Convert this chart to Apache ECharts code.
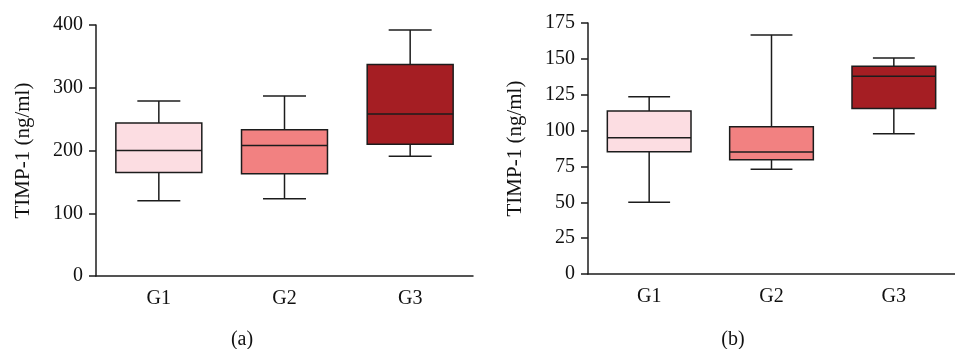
<!DOCTYPE html>
<html>
<head>
<meta charset="utf-8">
<script src="https://cdn.jsdelivr.net/npm/echarts@6/dist/echarts.min.js"></script>
<style>
  html, body { margin: 0; padding: 0; background: #fff; }
  #chart { width: 955px; height: 349px; }
</style>
</head>
<body>
<div id="chart"></div>
<script>
// groups and box colours
const groups = ['G1', 'G2', 'G3']
const boxColors = ['#fcdde2', '#f28181', '#a51e23']

// [min, Q1, median, Q3, max] per group
const statsA = [
  [120, 165, 200, 244, 279],
  [123, 163, 208, 233, 287],
  [191, 210, 258, 337, 392]
]
const statsB = [
  [50, 85.2, 95, 113.7, 123.5],
  [73, 79.6, 85, 102.6, 166.7],
  [97.7, 115.4, 137.9, 144.8, 150.6]
]

const yTicksA = { min: 0, max: 400, interval: 100 }
const yTicksB = { min: 0, max: 175, interval: 25 }

const ink = '#1c1c1c'
const textInk = '#111'
const font = '"Liberation Serif", "DejaVu Serif", serif'

function toData(stats) {
  return stats.map((s, i) => [i, ...s])
}

// box with half-width whisker caps
function renderBox(params, api) {
  const idx = api.value(0)
  const bandW = api.size([1, 0])[0]
  const half = bandW * 0.342
  const capHalf = half / 2
  const lo = api.coord([idx, api.value(1)])
  const q1 = api.coord([idx, api.value(2)])
  const med = api.coord([idx, api.value(3)])
  const q3 = api.coord([idx, api.value(4)])
  const hi = api.coord([idx, api.value(5)])
  const cx = lo[0]
  const lineStyle = { stroke: ink, lineWidth: 1.5 }
  return {
    type: 'group',
    children: [
      { type: 'line', shape: { x1: cx, y1: hi[1], x2: cx, y2: q3[1] }, style: lineStyle },
      { type: 'line', shape: { x1: cx, y1: q1[1], x2: cx, y2: lo[1] }, style: lineStyle },
      { type: 'line', shape: { x1: cx - capHalf, y1: hi[1], x2: cx + capHalf, y2: hi[1] }, style: lineStyle },
      { type: 'line', shape: { x1: cx - capHalf, y1: lo[1], x2: cx + capHalf, y2: lo[1] }, style: lineStyle },
      {
        type: 'rect',
        shape: { x: cx - half, y: q3[1], width: half * 2, height: q1[1] - q3[1] },
        style: { fill: boxColors[idx], stroke: ink, lineWidth: 1.5 }
      },
      { type: 'line', shape: { x1: cx - half, y1: med[1], x2: cx + half, y2: med[1] }, style: lineStyle }
    ]
  }
}

function xAxisFor(gridIndex) {
  return {
    type: 'category',
    gridIndex,
    data: groups,
    boundaryGap: true,
    axisLine: { lineStyle: { color: ink, width: 1.5 } },
    axisTick: { alignWithLabel: true, length: 8, lineStyle: { color: ink, width: 1.5 } },
    axisLabel: { color: textInk, fontFamily: font, fontSize: 20, margin: 13 },
    splitLine: { show: false }
  }
}

function yAxisFor(gridIndex, ticks) {
  return {
    type: 'value',
    gridIndex,
    min: ticks.min,
    max: ticks.max,
    interval: ticks.interval,
    name: 'TIMP-1 (ng/ml)',
    nameLocation: 'middle',
    nameRotate: 90,
    nameGap: 62,
    nameTextStyle: { color: textInk, fontFamily: font, fontSize: 21 },
    axisLine: { show: true, lineStyle: { color: ink, width: 1.5 } },
    axisTick: { show: true, length: 7, lineStyle: { color: ink, width: 1.5 } },
    axisLabel: { color: textInk, fontFamily: font, fontSize: 20, margin: 13 },
    splitLine: { show: false }
  }
}

const chart = echarts.init(document.getElementById('chart'))
chart.setOption({
  animation: false,
  backgroundColor: '#fff',
  grid: [
    { left: 96, top: 25, width: 377, bottom: 73 },
    { left: 588, top: 23, width: 380, bottom: 75 }
  ],
  xAxis: [xAxisFor(0), xAxisFor(1)],
  yAxis: [yAxisFor(0, yTicksA), yAxisFor(1, yTicksB)],
  series: [
    {
      type: 'custom',
      xAxisIndex: 0,
      yAxisIndex: 0,
      renderItem: renderBox,
      encode: { x: 0, y: [1, 2, 3, 4, 5] },
      data: toData(statsA)
    },
    {
      type: 'custom',
      xAxisIndex: 1,
      yAxisIndex: 1,
      renderItem: renderBox,
      encode: { x: 0, y: [1, 2, 3, 4, 5] },
      data: toData(statsB)
    }
  ],
  graphic: [
    { type: 'text', x: 242, y: 340, style: { text: '(a)', fill: textInk, font: '20px ' + font, textAlign: 'center', textVerticalAlign: 'middle' } },
    { type: 'text', x: 733, y: 340, style: { text: '(b)', fill: textInk, font: '20px ' + font, textAlign: 'center', textVerticalAlign: 'middle' } }
  ]
})
</script>
</body>
</html>
